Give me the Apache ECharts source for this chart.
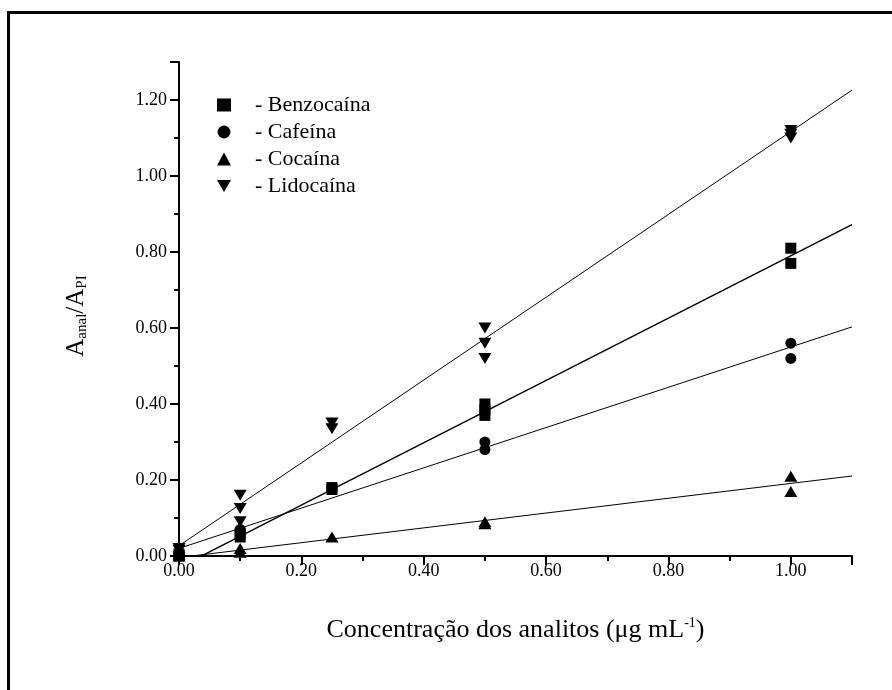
<!DOCTYPE html>
<html>
<head>
<meta charset="utf-8">
<script src="https://cdn.jsdelivr.net/npm/echarts@6/dist/echarts.min.js"></script>
<style>html,body{margin:0;padding:0;background:#fff}#c{width:892px;height:690px}</style>
</head>
<body>
<div id="c"></div>
<script>
const seriesNames = ['Benzocaína', 'Cafeína', 'Cocaína', 'Lidocaína'];
const xTickLabels = ['0.00', '0.20', '0.40', '0.60', '0.80', '1.00'];
const yTickLabels = ['0.00', '0.20', '0.40', '0.60', '0.80', '1.00', '1.20'];

const benzoX = [0, 0, 0.1, 0.1, 0.25, 0.25, 0.5, 0.5, 0.5, 1, 1];
const benzoY = [0.005, 0.0, 0.05, 0.06, 0.175, 0.18, 0.37, 0.385, 0.40, 0.77, 0.81];
const cafX = [0, 0, 0.1, 0.1, 0.25, 0.5, 0.5, 1, 1];
const cafY = [0.01, 0.005, 0.065, 0.07, 0.18, 0.28, 0.30, 0.52, 0.56];
const cocX = [0, 0, 0.1, 0.1, 0.25, 0.5, 0.5, 1, 1];
const cocY = [0.0, 0.005, 0.01, 0.02, 0.05, 0.085, 0.09, 0.17, 0.21];
const lidoX = [0, 0, 0.1, 0.1, 0.1, 0.25, 0.25, 0.5, 0.5, 0.5, 1, 1, 1];
const lidoY = [0.015, 0.02, 0.09, 0.125, 0.16, 0.335, 0.35, 0.52, 0.56, 0.60, 1.10, 1.11, 1.12];

// fitted lines (slope, intercept)
const fitSlopes = [0.82, 0.53, 0.195, 1.09];
const fitIntercepts = [-0.03, 0.02, -0.004, 0.027];
const fitRange = [0, 1.1];

const FONT = '"Liberation Serif", "Times New Roman", serif';
const zip = (xs, ys) => xs.map((x, i) => [x, ys[i]]);
const pointSets = [zip(benzoX, benzoY), zip(cafX, cafY), zip(cocX, cocY), zip(lidoX, lidoY)];
const symbols = ['rect', 'circle', 'triangle', 'path://M0,0L2,0L1,1.7Z'];
const sizes = [[11, 11], 11, [13, 11], [13, 11]];

const series = [];
pointSets.forEach((pts, i) => {
  series.push({
    name: seriesNames[i], type: 'scatter', data: pts,
    symbol: symbols[i], symbolSize: sizes[i],
    itemStyle: { color: '#000', opacity: 1 }, z: 3
  });
});
fitSlopes.forEach((m, i) => {
  series.push({
    type: 'line', data: fitRange.map(x => [x, m * x + fitIntercepts[i]]),
    symbol: 'none', clip: true, silent: true,
    lineStyle: { color: '#000', width: i === 0 ? 1.4 : 1 }, z: 2
  });
});

const chart = echarts.init(document.getElementById('c'), null, { renderer: 'canvas' });
chart.setOption({
  animation: false,
  backgroundColor: '#fff',
  textStyle: { fontFamily: FONT },
  grid: { left: 179, right: 40, top: 62, bottom: 134, containLabel: false },
  legend: {
    orient: 'vertical', left: 212, top: 89,
    data: seriesNames, itemWidth: 14, itemHeight: 13, itemGap: 5,
    formatter: n => '- ' + n,
    textStyle: { fontFamily: FONT, fontSize: 22, color: '#000', padding: [0, 0, 0, 19] },
    itemStyle: { opacity: 1 },
    selectedMode: false
  },
  xAxis: {
    type: 'value', min: 0, max: 1.1, interval: 0.2,
    axisLine: { show: true, onZero: false, lineStyle: { color: '#000', width: 2 } },
    axisTick: { show: true, inside: false, length: 9, lineStyle: { color: '#000', width: 2 } },
    minorTick: { show: true, splitNumber: 2, length: 5, lineStyle: { color: '#000', width: 2 } },
    splitLine: { show: false },
    axisLabel: {
      color: '#000', fontSize: 18, fontFamily: FONT, margin: 6, showMaxLabel: false,
      formatter: v => { const s = v.toFixed(2); return xTickLabels.includes(s) ? s : ''; }
    },
    name: '{m|Concentração dos analitos (μg mL}{sup|-1}{m|)}',
    nameLocation: 'middle', nameGap: 60,
    nameTextStyle: {
      color: '#000', fontSize: 26, fontFamily: FONT,
      rich: {
        m: { fontSize: 26, fontFamily: FONT, color: '#000' },
        sup: { fontSize: 14, fontFamily: FONT, color: '#000', verticalAlign: 'top', padding: [0, 0, 14, 0] }
      }
    }
  },
  yAxis: {
    type: 'value', min: 0, max: 1.3, interval: 0.2,
    axisLine: { show: true, lineStyle: { color: '#000', width: 2 } },
    axisTick: { show: true, inside: false, length: 9, lineStyle: { color: '#000', width: 2 } },
    minorTick: { show: true, splitNumber: 2, length: 5, lineStyle: { color: '#000', width: 2 } },
    splitLine: { show: false },
    axisLabel: {
      color: '#000', fontSize: 18, fontFamily: FONT, margin: 12, showMaxLabel: false,
      formatter: v => { const s = v.toFixed(2); return yTickLabels.includes(s) ? s : ''; }
    },
    name: '{m|A}{sub|anal}{m|/A}{sub|PI}',
    nameLocation: 'middle', nameGap: 89, nameRotate: 90,
    nameTextStyle: {
      color: '#000', fontSize: 25, fontFamily: FONT, padding: [0, 14, 0, 0],
      rich: {
        m: { fontSize: 25, fontFamily: FONT, color: '#000' },
        sub: { fontSize: 15, fontFamily: FONT, color: '#000', verticalAlign: 'bottom', padding: [12, 0, 0, 0] }
      }
    }
  },
  graphic: [{
    type: 'rect', left: 6, top: 10, silent: true,
    shape: { width: 1000, height: 1000 },
    style: { fill: 'none', stroke: '#000', lineWidth: 3 }
  }],
  series: series
});
</script>
</body>
</html>
